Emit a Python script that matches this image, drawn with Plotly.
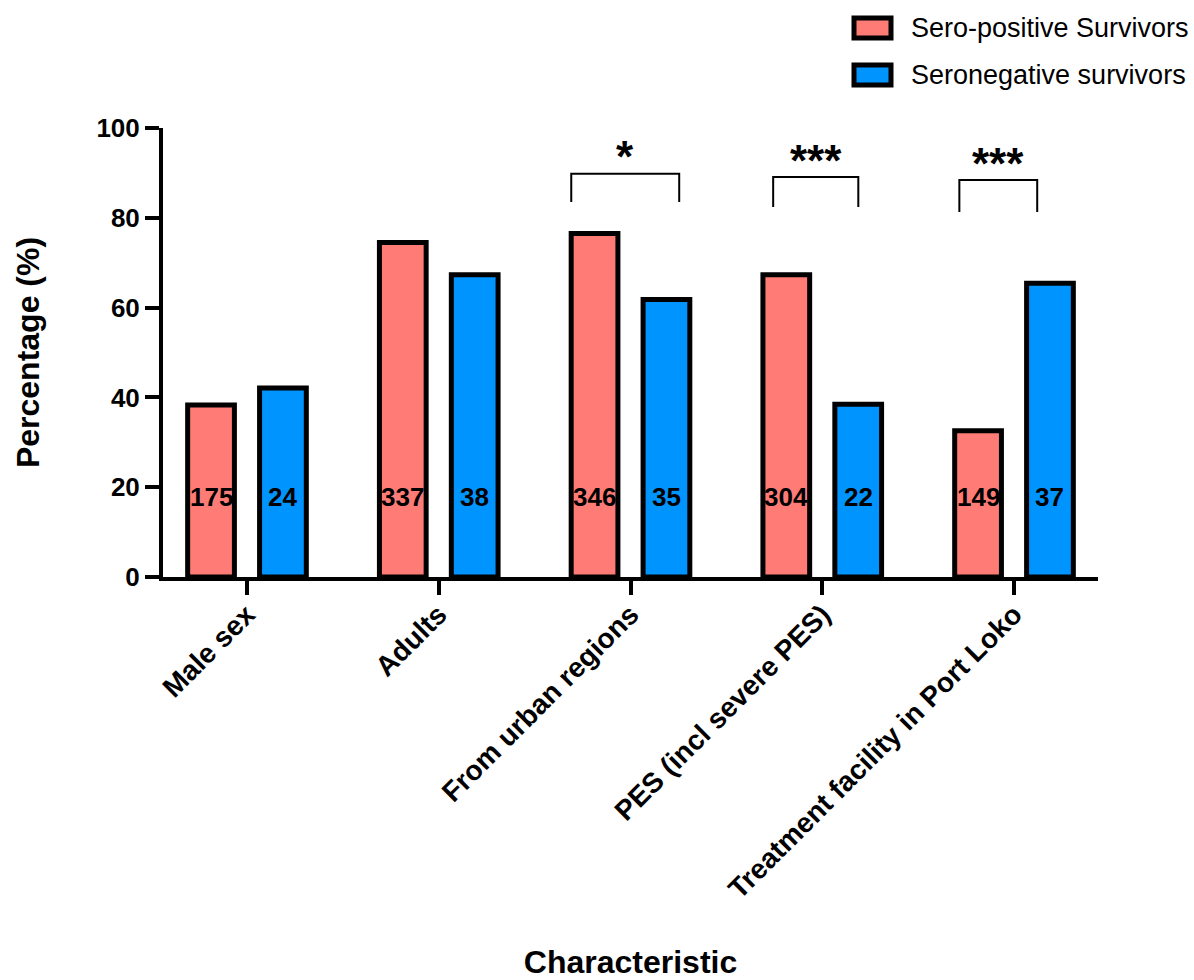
import plotly.graph_objects as go

# ---- data -------------------------------------------------------------
categories = [
    "Male sex",
    "Adults",
    "From urban regions",
    "PES (incl severe PES)",
    "Treatment facility in Port Loko",
]
seropos_pct = [38.3, 74.5, 76.5, 67.3, 32.6]
seroneg_pct = [42.1, 67.3, 61.8, 38.5, 65.4]
seropos_n = [175, 337, 346, 304, 149]
seroneg_n = [24, 38, 35, 22, 37]
sig_categories = ["From urban regions", "PES (incl severe PES)", "Treatment facility in Port Loko"]
sig_labels = ["*", "***", "***"]

# ---- styling ----------------------------------------------------------
FONT = "Liberation Sans, Arial, Helvetica, sans-serif"
RED = "#FF7C76"
BLUE = "#0094FF"
W, H = 1194, 980
M_L, M_R, M_T, M_B = 163, 96, 128, 403
PLOT_W = W - M_L - M_R
PLOT_H = H - M_T - M_B
BARGAP, BARGROUPGAP = 0.25, 0.35
SLOT = (1 - BARGAP) / 2          # width reserved for each series in a group
LABEL_Y = 17.8                   # height of the n-count labels inside the bars

# bracket geometry: (left offset, right offset, top, leg bottom, star y)
bracket_geom = [
    (-0.309, 0.254, 89.8, 83.5, 87.7),
    (-0.256, 0.188, 89.1, 82.4, 86.9),
    (-0.285, 0.121, 88.4, 81.3, 86.2),
]

fig = go.Figure()
for name, vals, color in [
    ("Sero-positive Survivors", seropos_pct, RED),
    ("Seronegative survivors", seroneg_pct, BLUE),
]:
    fig.add_trace(go.Bar(
        x=categories, y=vals, name=name,
        marker=dict(color=color, line=dict(color="black", width=5)),
        showlegend=False, cliponaxis=False,
    ))

# n-count labels centred on each bar
for i, cat in enumerate(categories):
    for n, shift in [(seropos_n[i], -SLOT / 2), (seroneg_n[i], SLOT / 2)]:
        fig.add_annotation(
            x=i + shift, y=LABEL_Y, xref="x", yref="y", text=str(n),
            showarrow=False, font=dict(family=FONT, size=26, color="black", weight="bold"),
        )

# significance brackets and stars
for cat, lab, (lo, hi, top, bot, sy) in zip(sig_categories, sig_labels, bracket_geom):
    i = categories.index(cat)
    fig.add_shape(
        type="path", xref="x", yref="y",
        path=f"M {i + lo} {bot} L {i + lo} {top} L {i + hi} {top} L {i + hi} {bot}",
        line=dict(color="black", width=2),
    )
    fig.add_annotation(
        x=i + (lo + hi) / 2, y=sy, xref="x", yref="y", text=lab, yanchor="bottom",
        showarrow=False, font=dict(family=FONT, size=44, color="black", weight="bold"),
    )

# legend drawn in pixel space above the plot
def px_x(px):
    return (px - M_L) / PLOT_W

def px_y(py):
    return (H - M_B - py) / PLOT_H

legend_items = [("Sero-positive Survivors", RED, 28), ("Seronegative survivors", BLUE, 75)]
for label, color, cy in legend_items:
    fig.add_shape(
        type="rect", xref="paper", yref="paper",
        x0=px_x(854), x1=px_x(891), y0=px_y(cy - 10), y1=px_y(cy + 10),
        fillcolor=color, line=dict(color="black", width=5),
    )
    fig.add_annotation(
        x=px_x(909), y=px_y(cy), xref="paper", yref="paper", text=label,
        xanchor="left", yanchor="middle", showarrow=False,
        font=dict(family=FONT, size=27, color="black"),
    )

axis_common = dict(
    showline=True, linewidth=4, linecolor="black",
    ticks="outside", ticklen=14, tickwidth=4, tickcolor="black",
    showgrid=False, zeroline=False,
)
fig.update_layout(
    width=W, height=H, autosize=False,
    margin=dict(l=M_L, r=M_R, t=M_T, b=M_B),
    paper_bgcolor="white", plot_bgcolor="white",
    barmode="group", bargap=BARGAP, bargroupgap=BARGROUPGAP,
    font=dict(family=FONT, color="black"),
    xaxis=dict(
        **axis_common, type="category", range=[-0.438, 4.438],
        tickangle=-45, automargin=False, ticklabelstandoff=-8,
        tickfont=dict(family=FONT, size=28, color="black", weight="bold"),
        title=dict(text="Characteristic", standoff=70,
                   font=dict(family=FONT, size=32, color="black", weight="bold")),
    ),
    yaxis=dict(
        **axis_common, range=[0, 100], tick0=0, dtick=20, automargin=False,
        tickfont=dict(family=FONT, size=26, color="black", weight="bold"),
        title=dict(text="Percentage (%)", standoff=48,
                   font=dict(family=FONT, size=32, color="black", weight="bold")),
    ),
)

fig.write_html("out.html")
